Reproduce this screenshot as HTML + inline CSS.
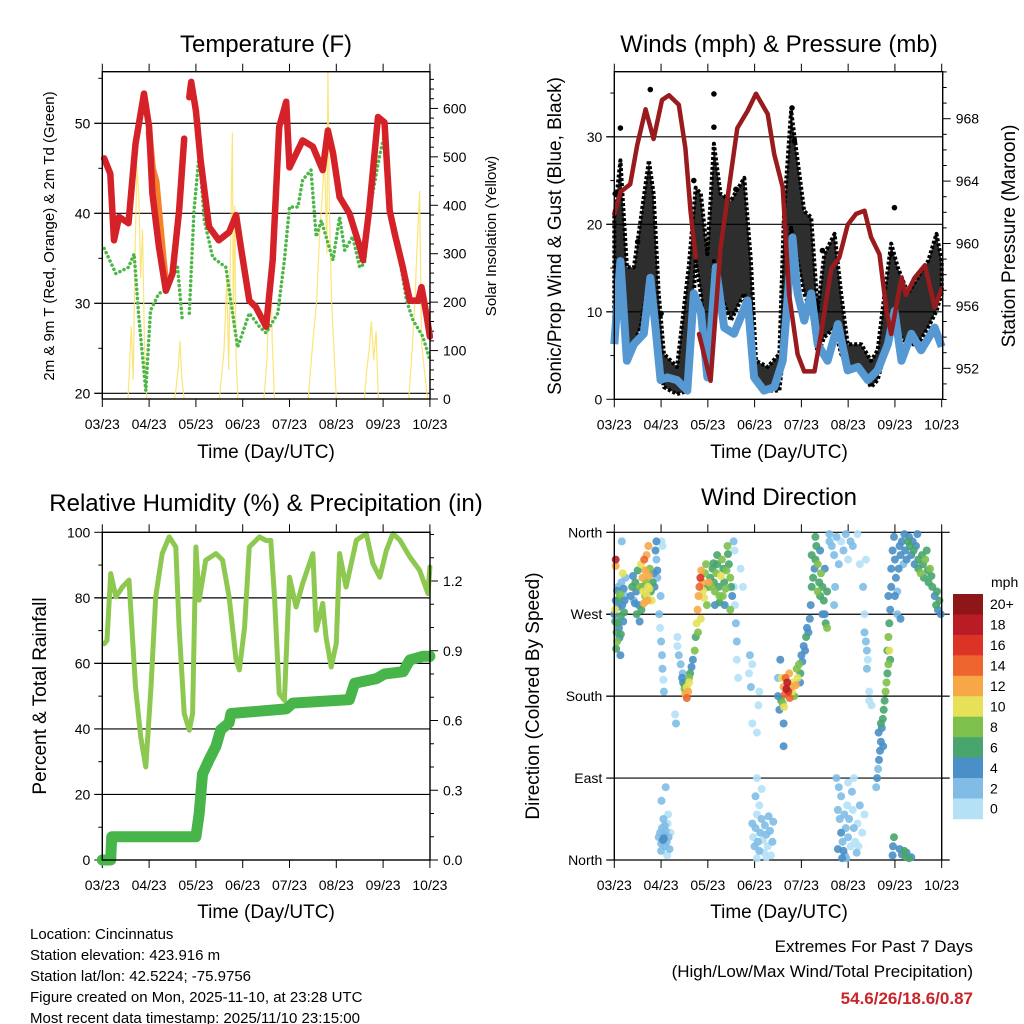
<!DOCTYPE html>
<html><head><meta charset="utf-8"><style>
html,body{margin:0;padding:0;background:#fff;}
svg{display:block;font-family:"Liberation Sans",Arial,sans-serif;}
</style></head><body>
<svg id="chart" width="1024" height="1024" viewBox="0 0 1024 1024" xmlns="http://www.w3.org/2000/svg">
<rect width="1024" height="1024" fill="#fff"/>
<g id="g1"></g>
<g id="g2"></g>
<g id="g3"></g>
<g id="g4"></g>
<g id="txt">
<text x="266" y="52" font-size="24" text-anchor="middle">Temperature (F)</text>
<text x="779" y="52" font-size="24" text-anchor="middle">Winds (mph) &amp; Pressure (mb)</text>
<text x="266" y="511" font-size="24" text-anchor="middle">Relative Humidity (%) &amp; Precipitation (in)</text>
<text x="779" y="505" font-size="24" text-anchor="middle">Wind Direction</text>
<text x="266" y="458" font-size="19" text-anchor="middle">Time (Day/UTC)</text>
<text x="779" y="458" font-size="19" text-anchor="middle">Time (Day/UTC)</text>
<text x="266" y="918" font-size="19" text-anchor="middle">Time (Day/UTC)</text>
<text x="779" y="918" font-size="19" text-anchor="middle">Time (Day/UTC)</text>
<text transform="translate(54,236) rotate(-90)" font-size="15" text-anchor="middle">2m &amp; 9m T (Red, Orange) &amp; 2m Td (Green)</text>
<text transform="translate(496,236) rotate(-90)" font-size="15" text-anchor="middle">Solar Insolation (Yellow)</text>
<text transform="translate(561,236) rotate(-90)" font-size="19" text-anchor="middle">Sonic/Prop Wind &amp; Gust (Blue, Black)</text>
<text transform="translate(1015,236) rotate(-90)" font-size="19" text-anchor="middle">Station Pressure (Maroon)</text>
<text transform="translate(46,696) rotate(-90)" font-size="19" text-anchor="middle">Percent &amp; Total Rainfall</text>
<text transform="translate(539,696) rotate(-90)" font-size="19" text-anchor="middle">Direction (Colored By Speed)</text>
<text x="30" y="939" font-size="15">Location: Cincinnatus</text>
<text x="30" y="960" font-size="15">Station elevation: 423.916 m</text>
<text x="30" y="981" font-size="15">Station lat/lon: 42.5224; -75.9756</text>
<text x="30" y="1002" font-size="15">Figure created on Mon, 2025-11-10, at 23:28 UTC</text>
<text x="30" y="1023" font-size="15">Most recent data timestamp: 2025/11/10 23:15:00</text>
<text x="973" y="952" font-size="17" text-anchor="end">Extremes For Past 7 Days</text>
<text x="973" y="977" font-size="17" text-anchor="end">(High/Low/Max Wind/Total Precipitation)</text>
<text x="973" y="1004" font-size="17" font-weight="bold" fill="#c8252b" text-anchor="end">54.6/26/18.6/0.87</text>
<text x="991" y="587" font-size="14">mph</text>
</g>
</svg>
<script>
// ---------- Data ----------
const xTickLabels = ["03/23","04/23","05/23","06/23","07/23","08/23","09/23","10/23"];
// Temperature (F)
const redDays = [0.04,0.17,0.25,0.36,0.56,0.71,0.89,1.0,1.07,1.21,1.36,1.5,1.64,1.75,null,1.86,1.9,2.0,2.1,2.28,2.49,2.71,2.86,2.96,3.14,3.28,3.5,3.64,3.78,3.93,4.0,4.28,4.5,4.71,4.82,4.93,5.07,5.28,5.5,5.57,5.71,5.89,6.03,6.14,6.25,6.42,6.57,6.75,6.82,6.92,7.0];
const redTemp = [46.1,44.4,37,39.6,38.9,47.7,53.3,49.6,42.2,36.3,31.4,33.3,40.3,48.3,null,52.9,54.6,51.4,45.9,38.5,37,37.9,39.8,36.3,30.3,29.6,27.4,34.8,49.6,52.4,45.1,48.1,47.4,44.8,49.2,46.7,41.8,40,36.3,34.8,40.7,50.7,50.1,40.3,37.7,34,30.3,30.3,31.8,28.9,26.3];
const orangeDays = [1.0,1.07,1.15,1.21,1.3,1.36];
const orangeTemp = [49,45,43.5,40,35,32];
const tdDays = [0.04,0.29,0.56,0.68,0.78,0.93,1.03,1.21,1.36,1.61,1.71,null,1.86,1.96,2.07,2.18,2.36,2.64,2.89,3.14,3.36,3.5,3.75,3.89,4.0,4.18,4.28,4.46,4.57,4.68,4.93,5.07,5.18,5.35,5.5,5.6,5.71,5.92,6.03,6.14,6.28,6.5,6.64,6.85,7.0];
const tdTemp = [36.1,33.3,34,35.5,28.5,20.3,29.2,31.1,31.4,34,28.1,null,28.9,40.3,46.6,39.2,35.1,34,25.1,28.9,27.4,26.7,28.9,34.8,40.7,40.7,43.7,44.8,37.4,39.2,34.8,39.6,35.9,37.4,34,34.4,40.3,46.3,48.8,40.3,37.4,30.3,28.1,26.3,23.7];
const solarDays = [0,0.55,0.62,0.66,0.7,0.74,0.78,0.82,0.86,0.9,0.95,1.55,1.62,1.66,1.7,1.75,2.5,2.6,2.66,2.7,2.74,2.78,2.8,2.83,2.86,2.9,3.45,3.52,3.56,3.6,3.63,3.68,4.4,4.5,4.58,4.65,4.7,4.75,4.8,4.82,4.85,4.9,4.95,5.0,5.6,5.65,5.7,5.75,5.8,5.85,5.9,6.55,6.62,6.68,6.72,6.78,6.82,6.88,6.95,7];
const solarVal = [0,0,150,40,300,480,420,250,350,120,0,0,60,120,40,0,0,100,250,60,320,550,150,400,80,0,0,80,220,300,120,0,0,120,200,350,420,500,300,675,400,200,100,0,0,60,100,160,80,140,0,0,100,200,300,430,120,60,0,0];
// Winds & pressure
const presDays = [0,0.13,0.34,0.49,0.67,0.84,1.02,1.17,1.38,1.52,1.63,1.74,null,1.81,2.06,2.27,2.63,2.85,3.03,3.28,3.42,3.6,3.74,3.92,4.06,4.28,4.42,4.64,4.81,4.99,5.17,5.35,5.49,5.67,5.82,5.92,6.14,6.24,6.42,6.64,6.85,7.0];
const presVal = [961.9,963.3,963.8,966.3,968.6,966.7,969.2,969.5,968.9,966.1,962.1,959.1,null,954.2,951.2,959.7,967.4,968.5,969.6,968.3,965.7,963.6,956.7,952.9,951.8,951.8,954.2,958.4,959.1,961.2,961.9,962.1,960.4,959.3,955.7,954.2,957.8,956.7,957.8,958.6,955.9,957.1];
const windDays = [0,0.13,0.27,0.42,0.63,0.77,0.88,0.99,1.13,1.34,1.56,1.70,1.85,1.99,2.17,2.35,2.56,2.85,2.99,3.2,3.42,3.60,3.81,3.92,4.06,4.21,4.35,4.56,4.78,4.99,5.21,5.42,5.63,5.85,5.99,6.14,6.35,6.56,6.85,7.0];
const windVal = [6.3,15.8,4.4,6.3,7.5,13.9,8.2,2.2,2.5,2.2,1.0,12.1,10.1,2.5,15.1,8.2,7.5,11.3,2.5,1.0,1.4,4.4,18.5,12.1,9.0,12.1,6.3,4.4,8.6,3.3,3.7,2.2,3.3,6.3,10.1,4.4,7.5,5.6,8.2,6.0];
const gustDays = [0,0.13,0.27,0.42,0.56,0.74,0.84,0.95,1.06,1.34,1.59,1.74,1.85,1.99,2.13,2.27,2.49,2.78,2.92,3.03,3.28,3.53,3.63,3.78,3.92,4.06,4.21,4.35,4.49,4.71,4.85,4.99,5.28,5.49,5.63,5.78,5.92,6.06,6.28,6.49,6.71,6.89,7.0];
const gustMax = [20.8,27.3,15.1,15.1,20.4,27.3,23.5,12.1,5.2,3.7,15.1,24.2,23.5,16.6,29.2,23.5,22.7,25.3,15.8,4.4,3.7,5.2,21.5,33.0,27.3,21.5,20.8,10.1,16.6,18.9,12.1,6.3,6.3,4.4,5.6,12.1,17.8,15.1,12.1,13.9,15.8,18.9,15.8];
const gustMin = [8.2,10.1,6.3,6.3,8.2,13.9,12.1,4.4,1.4,0.6,1.0,15.8,12.1,4.4,15.8,12.1,9.0,12.1,6.3,2.2,1.0,1.0,6.3,19.6,15.8,12.1,10.1,5.2,7.1,8.2,5.2,3.7,3.3,1.4,2.2,5.2,8.2,7.5,6.3,6.3,8.2,10.1,12.1];
const gustOutDays = [0.13,0.77,2.13,2.13,3.8,3.85,5.99,5.92,1.0,0.02,0.5,1.7,2.6,4.45];
const gustOutVal = [31,35.4,34.9,31.1,33.3,29.5,21.9,16.6,9.8,23.5,18,25,24,17];
// RH & precip
const rhDays = [0.04,0.1,0.18,0.29,0.43,0.57,0.71,0.82,0.93,1.04,1.14,1.28,1.43,1.57,1.64,1.75,1.86,1.93,2.0,2.07,2.21,2.43,2.57,2.71,2.86,2.93,3.04,3.14,3.36,3.5,3.6,3.68,3.78,3.89,4.0,4.14,4.28,4.5,4.57,4.71,4.78,4.89,5.0,5.07,5.21,5.43,5.64,5.78,5.93,6.07,6.21,6.36,6.57,6.78,6.96,7.0];
const rhVal = [66,67,87.4,80.3,83.3,85.4,52.8,37.6,28.4,52.8,80.3,93.5,98.6,95.5,71.1,44.7,39.6,44.7,95.5,79.3,91.5,93.5,91.5,80.3,61,58,71.1,95.5,98.6,97.5,97.5,80.3,50.8,48.7,86.3,77.2,84.3,93.5,70.1,78.3,68.1,58.9,66.1,93.5,83.3,97.6,99.6,90.5,86.3,94.5,99.6,97.6,92.5,88.4,81.3,89.4];
const prDays = [0,0.18,0.2,2.0,2.07,2.14,2.28,2.43,2.53,2.71,2.75,3.93,4.07,5.28,5.39,5.86,6.03,6.43,6.57,6.85,7.0];
const prVal = [0,0,0.1,0.1,0.2,0.37,0.43,0.49,0.56,0.59,0.63,0.65,0.675,0.69,0.76,0.78,0.80,0.81,0.86,0.876,0.876];
// Wind direction: [day, direction deg, speed mph]
const dirPoints = [
[0,270,4],[0.02,262,7],[0.03,285,5],[0.05,250,6],[0.06,240,8],[0.08,300,3],[0.09,278,5],[0.1,255,4],[0.12,292,9],[0.14,268,6],[0.15,305,3],[0.17,280,5],[0.18,315,10],[0.2,298,5],[0.22,285,4],[0.24,310,2],[0.02,275,10],[0.04,232,7],[0.07,260,6],[0.11,244,5],[0.13,225,4],[0.03,330,18],[0.03,323,13],[0.16,350,2],[0.19,262,4],[0.21,272,6],[0.1,287,7],[0.06,296,5],[0.23,290,3],[0.14,248,6],
[0.35,290,4],[0.38,300,6],[0.4,312,5],[0.42,285,3],[0.45,305,7],[0.47,295,4],[0.5,318,6],[0.52,280,5],[0.55,300,8],[0.57,325,11],[0.6,310,13],[0.62,295,10],[0.64,330,14],[0.66,318,12],[0.68,305,9],[0.7,290,11],[0.72,300,10],[0.74,312,12],[0.76,320,8],[0.78,295,7],[0.8,285,10],[0.82,305,6],[0.84,315,5],[0.86,300,4],[0.88,340,4],[0.9,330,3],[0.92,318,4],[0.58,275,7],[0.63,282,12],[0.69,335,13],[0.73,345,12],[0.48,270,6],[0.44,282,5],[0.54,262,4],[0.66,290,9],[0.71,285,13],[0.75,298,10],[0.61,300,6],[0.9,350,5],[0.92,310,2],
[0.96,270,2],[0.98,255,1],[1.0,240,2],[1.02,225,3],[1.03,210,2],[1.05,198,1],[1.06,185,2],[0.99,290,2],[1.01,350,1],[1.03,345,1],[1.1,80,2],
[0.95,25,3],[0.98,30,3],[1.0,18,2],[1.02,35,3],[1.04,22,4],[1.06,28,3],[1.08,15,2],[1.1,32,3],[1.12,20,3],[1.14,40,1],[1.16,25,2],[1.18,12,2],[1.2,30,1],[1.05,45,2],[1.0,10,3],[1.08,38,2],[1.13,5,1],[1.06,24,5],[1.15,50,1],[1.01,65,2],
[1.3,160,1],[1.32,150,2],[1.38,225,2],[1.42,215,3],[1.45,200,5],[1.47,195,4],[1.5,188,8],[1.52,182,12],[1.55,178,14],[1.58,185,12],[1.6,195,10],[1.62,205,7],[1.65,212,5],[1.68,220,4],[1.46,205,2],[1.55,190,10],[1.6,200,8],[1.5,192,6],[1.35,235,1],[1.35,245,1],
[1.72,230,8],[1.74,245,7],[1.76,260,10],[1.78,275,12],[1.8,290,12],[1.82,300,14],[1.84,310,16],[1.86,318,13],[1.88,305,12],[1.9,296,10],[1.92,288,11],[1.94,315,9],[1.96,325,8],[1.98,280,9],[2.0,300,7],[2.02,305,12],[1.85,265,11],[1.79,250,9],
[2.05,310,7],[2.08,300,8],[2.1,320,6],[2.13,305,7],[2.15,295,8],[2.18,315,9],[2.2,325,7],[2.23,300,6],[2.25,290,8],[2.28,312,10],[2.3,330,8],[2.33,320,6],[2.35,305,7],[2.38,298,8],[2.4,318,9],[2.43,336,7],[2.45,325,6],[2.48,310,8],[2.5,300,6],[2.52,290,5],[2.15,280,4],[2.25,283,6],[2.42,345,8],[2.32,290,9],[2.36,280,5],[2.48,275,8],[2.2,335,6],[2.12,326,7],
[2.56,300,1],[2.58,280,1],[2.6,260,2],[2.62,240,2],[2.62,220,1],[2.65,200,1],[2.55,350,2],[2.57,340,1],[2.75,300,1],[2.7,320,1],[2.9,225,2],[2.95,215,1],[2.88,205,1],[3.05,140,1],[3.05,90,1],[2.92,190,3],[2.95,150,1],[3.08,170,1],[3.1,185,1],
[2.95,40,2],[2.97,25,1],[3.0,15,3],[3.02,35,2],[3.05,50,1],[3.07,20,3],[3.1,10,2],[3.12,30,3],[3.15,45,2],[3.18,22,1],[3.2,8,1],[3.22,38,3],[3.25,28,2],[3.28,15,1],[3.3,48,3],[3.33,32,2],[3.35,5,1],[3.38,20,3],[3.4,42,2],[3.1,60,1],[3.02,70,2],[3.15,78,1],[3.25,3,1],[3.05,2,1],
[3.5,200,3],[3.55,220,4],[3.58,200,10],[3.62,190,12],[3.65,182,14],[3.68,188,18],[3.7,195,19],[3.72,185,16],[3.75,178,14],[3.78,190,12],[3.8,185,10],[3.82,195,11],[3.85,180,9],[3.88,192,12],[3.6,172,8],[3.63,168,10],[3.57,175,6],[3.66,200,15],[3.74,205,13],[3.5,180,5],[3.53,165,4],[3.62,150,4],[3.62,125,4],[3.92,200,10],[3.9,210,8],
[3.95,215,8],[3.98,205,6],[4.0,225,5],[4.02,218,4],[4.05,235,5],[4.08,230,4],[4.1,245,6],[4.12,255,5],[4.15,250,4],[3.97,195,5],
[4.18,265,4],[4.2,280,5],[4.22,300,6],[4.25,310,7],[4.28,320,5],[4.3,330,6],[4.32,345,7],[4.35,325,8],[4.38,305,7],[4.4,290,6],[4.42,315,8],[4.45,300,7],[4.48,285,6],[4.5,270,5],[4.52,260,7],[4.55,255,8],[4.3,355,6],[4.22,335,7],[4.4,340,5],[4.45,270,4],[4.35,295,8],[4.5,320,4],[4.55,295,6],[4.6,350,3],
[4.6,358,2],[4.65,345,3],[4.7,335,2],[4.75,355,2],[4.8,325,3],[4.85,350,1],[4.9,340,2],[4.95,358,3],[5.0,330,1],[5.05,350,2],[5.1,345,2],[5.2,358,1],[5.25,325,1],[4.72,300,3],[4.7,280,3],
[4.75,90,2],[4.8,80,3],[4.85,70,2],[4.78,55,3],[4.82,45,2],[4.85,30,4],[4.88,20,3],[4.9,10,4],[4.93,5,3],[4.95,35,2],[4.98,60,1],[5.0,25,2],[5.02,45,3],[5.05,15,1],[5.08,75,2],[5.1,55,1],[5.12,35,2],[5.15,20,1],[5.18,8,2],[5.2,40,1],[5.25,60,2],[5.3,30,1],[5.35,50,1],[4.78,12,4],[4.87,2,4],[5.0,85,1],[5.12,90,1],[4.92,50,3],[5.22,15,1],[4.96,2,3],
[5.32,300,2],[5.35,250,2],[5.38,240,3],[5.4,230,2],[5.42,220,1],[5.45,185,1],[5.5,170,1],[5.35,270,1],[5.4,210,2],[5.38,330,1],[5.45,175,1],
[5.62,90,4],[5.64,100,3],[5.66,110,4],[5.68,120,5],[5.7,130,4],[5.72,145,5],[5.74,155,7],[5.76,165,6],[5.78,175,7],[5.8,185,8],[5.82,195,9],[5.84,205,7],[5.86,215,8],[5.65,140,4],[5.7,150,6],[5.75,125,5],[5.6,80,3],
[5.84,230,7],[5.86,245,8],[5.88,260,6],[5.9,275,5],[5.86,290,4],[5.92,300,4],[5.88,230,10],[5.9,220,6],
[5.92,320,4],[5.95,340,5],[5.98,355,4],[6.0,330,5],[6.02,310,4],[6.05,295,3],[6.08,320,4],[6.1,345,5],[6.12,335,4],[6.15,350,5],[6.18,325,3],[6.2,358,4],[6.22,340,5],[6.25,330,4],[6.28,350,6],[6.3,355,5],[6.32,345,7],[6.35,335,5],[6.38,350,4],[6.4,340,6],[6.42,325,5],[6.45,345,4],[6.48,358,5],[6.5,330,7],[6.0,290,4],[6.05,270,3],[6.12,265,4],
[6.5,320,7],[6.55,315,8],[6.6,325,6],[6.62,310,7],[6.65,330,8],[6.7,318,7],[6.72,305,6],[6.75,320,8],[6.78,312,7],[6.8,300,6],[6.85,290,5],[6.88,280,6],[6.9,295,7],[6.92,275,5],[6.95,285,6],[6.98,270,4],[6.58,335,6],[6.68,340,6],
[5.95,5,4],[5.96,15,5],[5.98,25,7],[6.1,12,4],[6.15,6,5],[6.2,10,7],[6.22,4,6],[6.25,8,4],[6.3,2,6],[6.35,3,5]
];
const speedLabels = ["20+","18","16","14","12","10","8","6","4","2","0"];
const speedColors = ["#8e1518","#b91c24","#db3427","#ef6530","#f6a847","#e6e159","#7dc04b","#48a56e","#4a8fc7","#80bce6","#b5e1f7"];
const dirLabels = ["North","East","South","West","North"];

// ---------- Helpers ----------
const NS = "http://www.w3.org/2000/svg";
function mk(parent, tag, attrs) {
  const e = document.createElementNS(NS, tag);
  for (const k in attrs) e.setAttribute(k, attrs[k]);
  parent.appendChild(e);
  return e;
}
function pathFrom(xs, ys, fx, fy) {
  let d = "", pen = false;
  for (let i = 0; i < xs.length; i++) {
    if (xs[i] === null || ys[i] === null) { pen = false; continue; }
    d += (pen ? "L" : "M") + fx(xs[i]).toFixed(1) + " " + fy(ys[i]).toFixed(1);
    pen = true;
  }
  return d;
}
function frame(g, L, R, T, B, xf, grid, leftTicks, rightTicks) {
  grid.forEach(y => {
    const l = mk(g, "line", {x1: L - 8, x2: R, y1: y, y2: y, stroke: "#000", "stroke-width": 1.2});
    
    
  });
  for (let i = 0; i < 8; i++) {
    const x = xf(i);
    const t1 = mk(g, "line", {x1: x, x2: x, y1: T - 8, y2: T, stroke: "#000", "stroke-width": 1});
    
    
    const t2 = mk(g, "line", {x1: x, x2: x, y1: B, y2: B + 8, stroke: "#000", "stroke-width": 1});
    
    
    const lb = mk(g, "text", {x: x, y: B + 30, "font-size": 14, "text-anchor": "middle"});
    lb.textContent = xTickLabels[i];
    
    
  }
  leftTicks.forEach(t => {
    const l = mk(g, "line", {x1: L - (t.minor ? 4 : 8), x2: L, y1: t.y, y2: t.y, stroke: "#000", "stroke-width": 1});
    
    
    if (t.label !== undefined) {
      const lb = mk(g, "text", {x: L - 12, y: t.y + 5, "font-size": 14, "text-anchor": "end"});
      lb.textContent = t.label;
      
      
    }
  });
  rightTicks.forEach(t => {
    const l = mk(g, "line", {x1: R, x2: R + (t.minor ? 4 : 8), y1: t.y, y2: t.y, stroke: "#000", "stroke-width": 1});
    
    
    if (t.label !== undefined) {
      const lb = mk(g, "text", {x: R + 13, y: t.y + 5, "font-size": 14, "text-anchor": "start"});
      lb.textContent = t.label;
      
      
    }
  });
}
function box(g, L, R, T, B) {
  const r = mk(g, "rect", {x: L, y: T, width: R - L, height: B - T, fill: "none", stroke: "#000", "stroke-width": 1.4});
  
  
}
function ticksRange(a, b, step, every, f, fmt) {
  const out = [];
  let i = 0;
  for (let v = a; v <= b + 1e-9; v += step, i++) {
    const t = {y: f(v), minor: i % every !== 0};
    if (!t.minor) t.label = fmt(v);
    out.push(t);
  }
  return out;
}

// ---------- Panel 1: Temperature ----------
(function () {
  const g = document.getElementById("g1");
  const L = 102.3, R = 430, T = 71.7, B = 399;
  const xf = d => L + d * 46.8;
  const yT = v => 393.3 - (v - 20) * 9;
  const yS = v => 399 - v * 0.4843;
  frame(g, L, R, T, B, xf, [20, 30, 40, 50].map(yT),
    ticksRange(20, 55, 5, 2, yT, v => String(v)),
    ticksRange(0, 660, 20, 5, yS, v => String(v)));
  const s = mk(g, "path", {d: pathFrom(solarDays, solarVal, xf, yS), fill: "none", stroke: "#fbe26a", "stroke-width": 1.2, opacity: 0.9});
  
  
  const o = mk(g, "path", {d: pathFrom(orangeDays, orangeTemp, xf, yT), fill: "none", stroke: "#f5822a", "stroke-width": 7, "stroke-linejoin": "round", "stroke-linecap": "round"});
  
  
  const tdl = mk(g, "path", {d: pathFrom(tdDays, tdTemp, xf, yT), fill: "none", stroke: "#4cb748", "stroke-width": 3.5, "stroke-dasharray": "0.1 4.5", "stroke-linecap": "round", "stroke-linejoin": "round"});
  
  
  const r = mk(g, "path", {d: pathFrom(redDays, redTemp, xf, yT), fill: "none", stroke: "#d42228", "stroke-width": 6.5, "stroke-linejoin": "round", "stroke-linecap": "round"});
  
  
  box(g, L, R, T, B);
})();

// ---------- Panel 2: Winds & Pressure ----------
(function () {
  const g = document.getElementById("g2");
  const L = 614.3, R = 942.7, T = 71.7, B = 399.3;
  const xf = d => L + d * 46.77;
  const yW = v => 399.3 - v * 8.75;
  const yP = v => 368.3 - (v - 952) * 15.6;
  frame(g, L, R, T, B, xf, [10, 20, 30].map(yW),
    ticksRange(0, 35, 5, 2, yW, v => String(v)),
    ticksRange(948, 972, 1, 4, yP, v => String(v)).filter(t => t.y >= T - 1 && t.y <= B + 1));
  let d = "";
  for (let i = 0; i < gustDays.length; i++) d += (i ? "L" : "M") + xf(gustDays[i]).toFixed(1) + " " + yW(gustMax[i]).toFixed(1);
  for (let i = gustDays.length - 1; i >= 0; i--) d += "L" + xf(gustDays[i]).toFixed(1) + " " + yW(gustMin[i]).toFixed(1);
  const band = mk(g, "path", {d: d + "Z", fill: "#000", "fill-opacity": 0.82, stroke: "#000", "stroke-width": 4, "stroke-dasharray": "3 2", "stroke-linejoin": "round"});
  
  
  for (let i = 0; i < gustOutDays.length; i++) {
    const c = mk(g, "circle", {cx: xf(gustOutDays[i]), cy: yW(gustOutVal[i]), r: 2.8, fill: "#000"});
    
    
  }
  const w = mk(g, "path", {d: pathFrom(windDays, windVal, xf, yW), fill: "none", stroke: "#5598d2", "stroke-width": 8, "stroke-linejoin": "round"});
  
  
  const p = mk(g, "path", {d: pathFrom(presDays, presVal, xf, yP), fill: "none", stroke: "#9a1b1e", "stroke-width": 4.5, "stroke-linejoin": "round", "stroke-linecap": "round"});
  
  
  box(g, L, R, T, B);
})();

// ---------- Panel 3: RH & precip ----------
(function () {
  const g = document.getElementById("g3");
  const L = 102.3, R = 430, T = 532.3, B = 860;
  const xf = d => L + d * 46.8;
  const yR = v => 860 - v * 3.277;
  const yP = v => 860 - v * 232.5;
  frame(g, L, R, T, B, xf, [20, 40, 60, 80].map(yR),
    ticksRange(0, 100, 10, 2, yR, v => String(v)),
    ticksRange(0, 1.4, 0.1, 3, yP, v => v.toFixed(1)));
  const r = mk(g, "path", {d: pathFrom(rhDays, rhVal, xf, yR), fill: "none", stroke: "#8dc850", "stroke-width": 5, "stroke-linejoin": "round", "stroke-linecap": "round"});
  
  
  const p = mk(g, "path", {d: pathFrom(prDays, prVal, xf, yP), fill: "none", stroke: "#47b549", "stroke-width": 11, "stroke-linejoin": "round", "stroke-linecap": "round"});
  
  
  box(g, L, R, T, B);
})();

// ---------- Panel 4: Wind direction ----------
(function () {
  const g = document.getElementById("g4");
  const L = 614.3, R = 941.7, T = 532.3, B = 860;
  const xf = d => L + d * 46.77;
  const yD = v => 860 - v * 327.7 / 360;
  const lt = dirLabels.map((lab, i) => ({y: yD(i * 90), minor: false, label: lab}));
  frame(g, L, R, T, B, xf, [90, 180, 270].map(yD), lt, []);
  [0, 360].forEach(v => {
    const l = mk(g, "line", {x1: L - 8, x2: R + 8, y1: yD(v), y2: yD(v), stroke: "#000", "stroke-width": 1.2});
    
    
  });
  [90, 180, 270].forEach(v => {
    const l = mk(g, "line", {x1: R, x2: R + 8, y1: yD(v), y2: yD(v), stroke: "#000", "stroke-width": 1.2});
    
    
  });
  const colorFor = s => { let idx = 10 - Math.floor(s / 2); if (idx < 0) idx = 0; if (idx > 10) idx = 10; return speedColors[idx]; };
  const pts = dirPoints.slice().sort((a, b) => a[2] - b[2]);
  pts.forEach(p => {
    const c = mk(g, "circle", {cx: xf(p[0]).toFixed(1), cy: yD(p[1]).toFixed(1), r: 4, fill: colorFor(p[2]), opacity: 0.9});
    
    
  });
  const lx = mk(g, "line", {x1: L, x2: L, y1: T, y2: B, stroke: "#000", "stroke-width": 1.4});
  
  
  const rx = mk(g, "line", {x1: R, x2: R, y1: T, y2: B, stroke: "#000", "stroke-width": 1.4});
  
  
  const cbTop = 594, cbH = 20.45;
  speedColors.forEach((col, i) => {
    const r = mk(g, "rect", {x: 953, y: cbTop + i * cbH, width: 30, height: cbH + 0.3, fill: col});
    
    
    const t = mk(g, "text", {x: 990, y: cbTop + i * cbH + cbH / 2 + 5, "font-size": 14});
    t.textContent = speedLabels[i];
    
    
  });
})();
</script>
</body></html>
